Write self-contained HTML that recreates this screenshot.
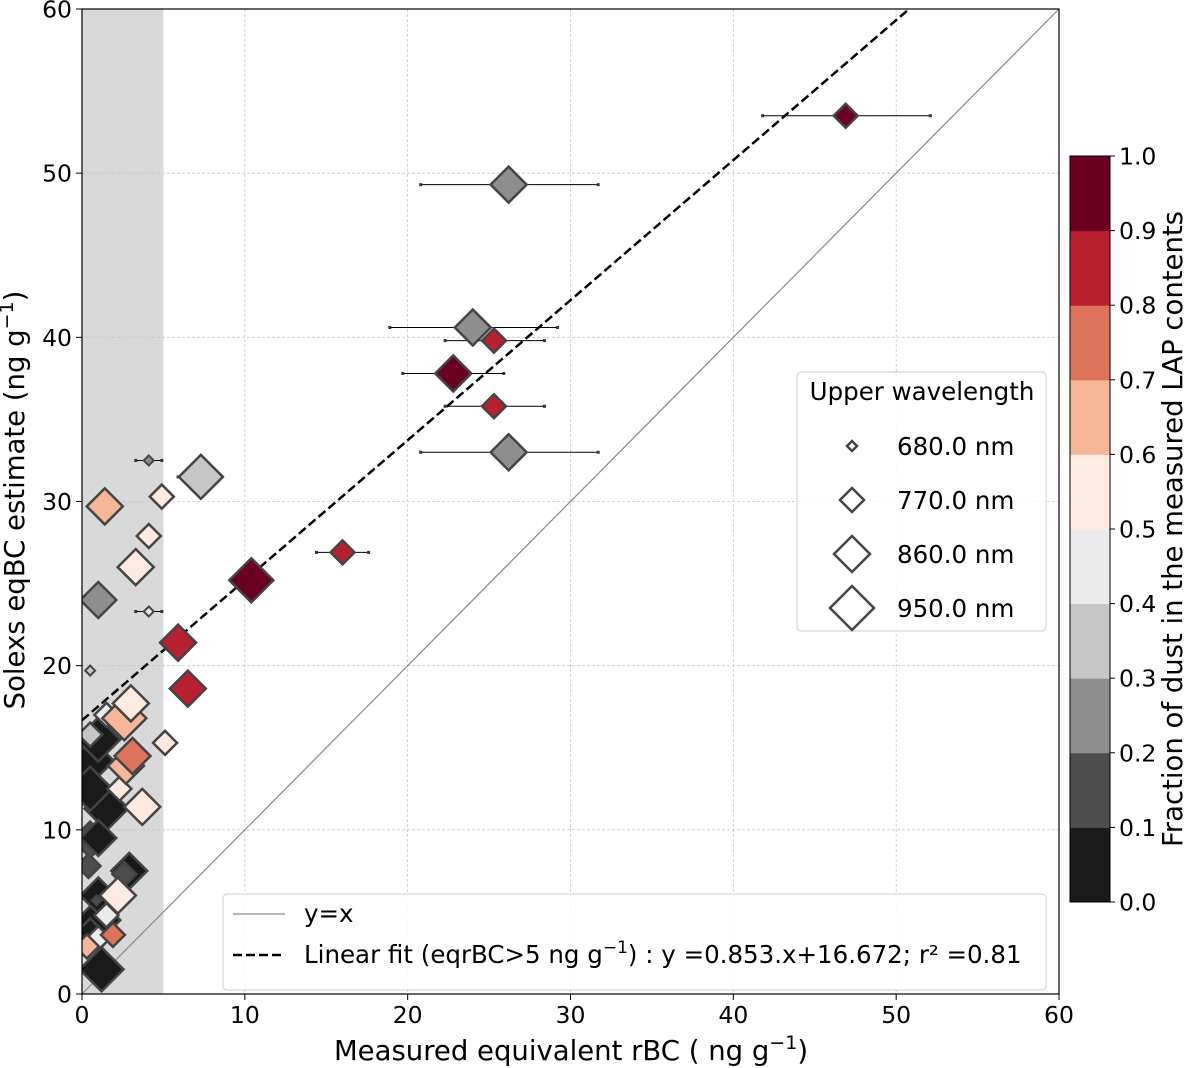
<!DOCTYPE html>
<html><head><meta charset="utf-8">
<style>
html,body{margin:0;padding:0;background:#fff;}
svg{display:block;font-family:"DejaVu Sans","Liberation Sans",sans-serif;}
</style></head>
<body>
<svg id="chart" width="1185" height="1068" viewBox="0 0 1185 1068">
<defs><clipPath id="plotclip"><rect x="82" y="9" width="977" height="985"/></clipPath></defs>
<g id="shade"></g>
<g id="grid"></g>
<g id="lines"></g>
<g id="errs" clip-path="url(#plotclip)"></g>
<g id="points" clip-path="url(#plotclip)"></g>
<rect x="82" y="9" width="977" height="985" fill="none" stroke="#000" stroke-width="1.2"/>
<g id="axes"></g>
<text x="571" y="1060" text-anchor="middle" font-size="27.5">Measured equivalent rBC ( ng g<tspan dy="-11" font-size="19">−1</tspan><tspan dy="11">)</tspan></text>
<text transform="translate(24,500) rotate(-90)" text-anchor="middle" font-size="27.5">Solexs eqBC estimate  (ng g<tspan dy="-11" font-size="19">−1</tspan><tspan dy="11">)</tspan></text>
<g id="cbar"></g>
<text transform="translate(1185,529) rotate(-90)" text-anchor="middle" font-size="27.5" dy="-3">Fraction of dust in the measured LAP contents</text>
<g>
<rect x="797" y="372" width="249" height="259" rx="4" fill="#fff" fill-opacity="0.85" stroke="#ccc"/>
<text x="922" y="400" text-anchor="middle" font-size="24.5">Upper wavelength</text>
<g id="sizeleg"></g>
</g>
<g>
<rect x="223" y="894" width="823" height="96" rx="4" fill="#fff" fill-opacity="0.85" stroke="#ccc"/>
<line x1="233" y1="914" x2="285" y2="914" stroke="#888" stroke-width="1.2"/>
<text x="304" y="922" font-size="24.5">y=x</text>
<line x1="233" y1="955" x2="285" y2="955" stroke="#000" stroke-width="2.5" stroke-dasharray="9,4"/>
<text x="304" y="963" font-size="24.5">Linear fit (eqrBC&gt;5 ng g<tspan dy="-10" font-size="17">−1</tspan><tspan dy="10">) : y =0.853.x+16.672; r² =0.81</tspan></text>
</g>
</svg>
<script>
const xTicks=[0,10,20,30,40,50,60];
const yTicks=[0,10,20,30,40,50,60];
const cbTicks=["0.0","0.1","0.2","0.3","0.4","0.5","0.6","0.7","0.8","0.9","1.0"];
const palette=["#1a1a1a","#4d4d4d","#8e8e8e","#c6c6c6","#ebebeb","#fdeae0","#f6b799","#de735c","#b8202f","#6a0022"];
const sizeLabels=["680.0 nm","770.0 nm","860.0 nm","950.0 nm"];
const sizeHalf=[5,12,18,22];
const ptX=[1.2,1.0,0.5,1.0,0.5,0.6,1.5,0.5,1.0,1.0,0.4,2.9,2.6,0.5,0.9,1.5,1.0,0.3,1.9,1.5,2.2,3.7,2.3,2.7,3.1,1.5,5.1,2.6,3.0,0.5,6.5,5.9,4.1,1.0,10.4,3.3,4.1,16.0,4.9,1.4,7.3,4.1,26.2,25.3,22.8,25.3,24.0,26.2,46.9];
const ptY=[1.5,4.5,3.5,6.0,9.4,14.2,11.3,12.5,15.5,9.5,7.8,7.5,7.3,15.8,5.7,4.8,3.4,2.9,3.6,4.8,6.0,11.4,12.5,13.9,14.5,17.0,15.3,16.8,17.7,19.7,18.6,21.4,23.3,24.0,25.2,26.0,27.9,26.9,30.3,29.7,31.5,32.5,33.0,35.8,37.8,39.8,40.6,49.3,53.5];
const ptS=[3,3,2,2,2,3,3,3,3,2,1,2,1,1,0,0,1,1,1,1,2,2,1,2,2,1,1,3,2,0,2,2,0,2,3,2,1,1,1,2,3,0,2,1,2,1,2,2,1];
const ptC=[0,0,0,0,1,0,0,0,0,0,1,0,1,3,1,7,4,6,7,4,5,5,5,6,7,4,5,6,5,3,8,8,4,2,9,5,5,8,5,6,3,2,2,8,9,8,2,2,9];
const errX=[4.1,7.3,16.0,4.1,26.2,25.3,22.8,25.3,24.0,26.2,46.9];
const errY=[23.3,31.5,26.9,32.5,33.0,35.8,37.8,39.8,40.6,49.3,53.5];
const errLo=[3.3,5.9,14.4,3.3,20.8,22.3,19.7,22.3,18.9,20.8,41.8];
const errHi=[4.9,8.6,17.6,4.9,31.7,28.4,25.9,28.4,29.2,31.7,52.1];
const fitSlope=0.853, fitIntercept=16.672;

const NS="http://www.w3.org/2000/svg";
const X0=82,X1=1059,Y0=994,Y1=9;
const sx=v=>X0+(v/60)*(X1-X0);
const sy=v=>Y0-(v/60)*(Y0-Y1);
function mk(tag,attrs,parent){const e=document.createElementNS(NS,tag);for(const k in attrs)e.setAttribute(k,attrs[k]);parent.appendChild(e);return e;}
const g=id=>document.getElementById(id);

let r=mk('rect',{x:sx(0),y:Y1,width:sx(5)-sx(0),height:Y0-Y1,fill:'#d9d9d9'},g('shade'));



xTicks.forEach(t=>{
  if(t>0&&t<60){let l=mk('line',{x1:sx(t),x2:sx(t),y1:Y1,y2:Y0,stroke:'#c8c8c8','stroke-width':0.8,'stroke-dasharray':'3,2'},g('grid'));
  
  }
  let tk=mk('line',{x1:sx(t),x2:sx(t),y1:Y0,y2:Y0+6,stroke:'#000'},g('axes'));
  
  
  let tx=mk('text',{x:sx(t),y:Y0+29,'text-anchor':'middle','font-size':23.5},g('axes'));tx.textContent=t;
  
  
});
yTicks.forEach(t=>{
  if(t>0&&t<60){let l=mk('line',{x1:X0,x2:X1,y1:sy(t),y2:sy(t),stroke:'#c8c8c8','stroke-width':0.8,'stroke-dasharray':'3,2'},g('grid'));
  
  }
  let tk=mk('line',{x1:X0-6,x2:X0,y1:sy(t),y2:sy(t),stroke:'#000'},g('axes'));
  
  
  let tx=mk('text',{x:X0-10,y:sy(t)+8.5,'text-anchor':'end','font-size':23.5},g('axes'));tx.textContent=t;
  
  
});

let idl=mk('line',{x1:sx(0),y1:sy(0),x2:sx(60),y2:sy(60),stroke:'#888','stroke-width':1.2},g('lines'));


const xEnd=(60-fitIntercept)/fitSlope;
let fl=mk('line',{x1:sx(0),y1:sy(fitIntercept),x2:sx(xEnd),y2:sy(60),stroke:'#000','stroke-width':2.5,'stroke-dasharray':'9,4'},g('lines'));



errX.forEach((x,i)=>{
  const y=sy(errY[i]);
  let l=mk('line',{x1:sx(errLo[i]),x2:sx(errHi[i]),y1:y,y2:y,stroke:'#000','stroke-width':1},g('errs'));
  
  
  [errLo[i],errHi[i]].forEach(v=>{let c=mk('rect',{x:sx(v)-1.5,y:y-1.5,width:3,height:3,fill:'#333'},g('errs'));
  
  });
});

function diamond(cx,cy,h){return `${cx},${cy-h} ${cx+h},${cy} ${cx},${cy+h} ${cx-h},${cy}`;}
ptX.forEach((x,i)=>{
  const h=sizeHalf[ptS[i]];
  let p=mk('polygon',{points:diamond(sx(x),sy(ptY[i]),h),fill:palette[ptC[i]],stroke:'#444','stroke-width':h<8?2:2.5},g('points'));
  
  
});

const CBX=1070,CBW=40,CBT=156,CBB=902;
palette.forEach((c,i)=>{
  const h=(CBB-CBT)/10;
  let rr=mk('rect',{x:CBX,y:CBB-(i+1)*h,width:CBW,height:h+0.5,fill:c},g('cbar'));
  
  
});
mk('rect',{x:CBX,y:CBT,width:CBW,height:CBB-CBT,fill:'none',stroke:'#000','stroke-width':1},g('cbar'));
cbTicks.forEach((t,i)=>{
  const y=CBB-i*(CBB-CBT)/10;
  mk('line',{x1:CBX+CBW,x2:CBX+CBW+5,y1:y,y2:y,stroke:'#000'},g('cbar'));
  let tx=mk('text',{x:CBX+CBW+9,y:y+8.5,'font-size':23.5},g('cbar'));tx.textContent=t;
  
  
});

sizeLabels.forEach((s,i)=>{
  const y=446+i*54;
  let p=mk('polygon',{points:diamond(852,y,sizeHalf[i]),fill:'#fff',stroke:'#444','stroke-width':2.5},g('sizeleg'));
  
  
  let tx=mk('text',{x:897,y:y+9,'font-size':24.5},g('sizeleg'));tx.textContent=s;
  
  
});
</script>
</body></html>
